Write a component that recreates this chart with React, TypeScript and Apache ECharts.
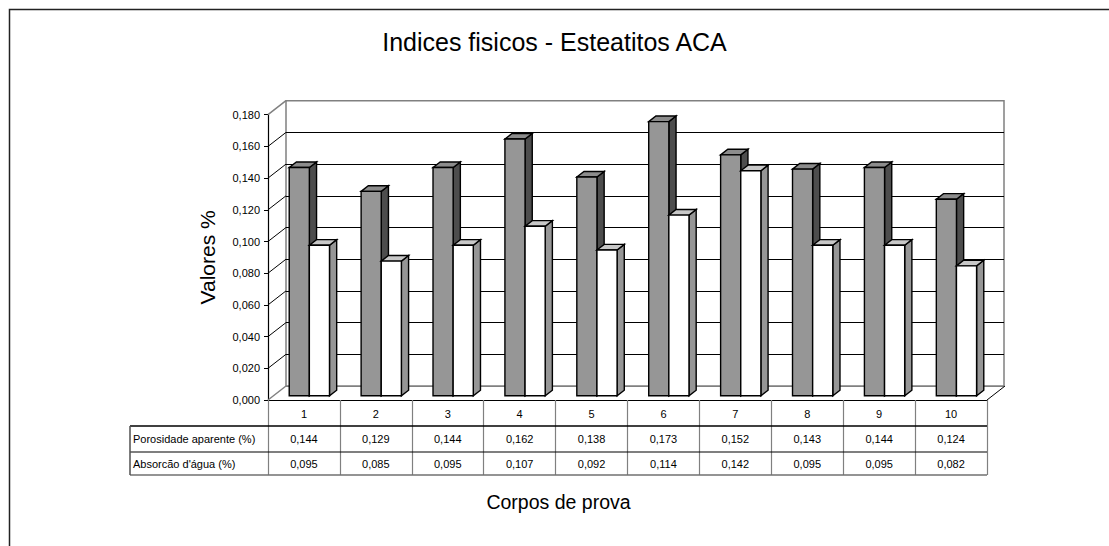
import React, { useEffect, useRef } from "react";
import * as echarts from "echarts";

const TITLE = "Indices fisicos - Esteatitos ACA";
const Y_NAME = "Valores %";
const X_NAME = "Corpos de prova";
const CATEGORIES = ["1", "2", "3", "4", "5", "6", "7", "8", "9", "10"];
const SERIES_NAMES = ["Porosidade aparente (%)", "Absorcão d'água (%)"];
const POROSIDADE = [0.144, 0.129, 0.144, 0.162, 0.138, 0.173, 0.152, 0.143, 0.144, 0.124];
const ABSORCAO = [0.095, 0.085, 0.095, 0.107, 0.092, 0.114, 0.142, 0.095, 0.095, 0.082];
const Y_TICKS = [0, 0.02, 0.04, 0.06, 0.08, 0.1, 0.12, 0.14, 0.16, 0.18];

// styling / layout constants
const DX = 18; // 3D depth offset (x)
const DY = 14; // 3D depth offset (y)
const BAR_T0 = 0.3;
const BAR_T1 = 0.7;
const BAR_W = 0.28; // fraction of band
const LABEL_COL_W = 138;
const ROW_Y = [26, 52, 75];
const SMALL_FONT = "Liberation Sans, Arial, sans-serif";
const BIG_FONT = "Liberation Sans, Arial, sans-serif";

const fmt = (v: number) => v.toFixed(3).replace(".", ",");

const BAR_STYLES = [
  { front: "#969696", side: "#4d4d4d", top: "#8c8c8c" },
  { front: "#ffffff", side: "#969696", top: "#c8c8c8" },
];

function makeBarRender(si: number) {
  return (params: any, api: any) => {
    const cat = api.value(0);
    const v = api.value(1);
    const base = api.coord([cat, 0]);
    const topP = api.coord([cat, v]);
    const band = api.size([1, 0])[0];
    const w = band * BAR_W;
    const ox = DX * BAR_T0;
    const oy = DY * BAR_T0;
    const ddx = DX * (BAR_T1 - BAR_T0);
    const ddy = DY * (BAR_T1 - BAR_T0);
    const x0 = base[0] + (si === 0 ? -w : 0) + ox;
    const yb = base[1] - oy;
    const yt = topP[1] - oy;
    const st = BAR_STYLES[si];
    const stroke = { stroke: "#000", lineWidth: 1.4, lineJoin: "miter" };
    return {
      type: "group",
      children: [
        {
          type: "polygon",
          shape: { points: [[x0 + w, yt], [x0 + w + ddx, yt - ddy], [x0 + w + ddx, yb - ddy], [x0 + w, yb]] },
          style: { fill: st.side, ...stroke },
        },
        {
          type: "polygon",
          shape: { points: [[x0, yt], [x0 + ddx, yt - ddy], [x0 + w + ddx, yt - ddy], [x0 + w, yt]] },
          style: { fill: st.top, ...stroke },
        },
        {
          type: "rect",
          shape: { x: x0, y: yt, width: w, height: yb - yt },
          style: { fill: st.front, ...stroke },
        },
        {
          type: "text",
          style: {
            text: fmt(v),
            x: base[0],
            y: base[1] + (si === 0 ? 39 : 64),
            align: "center",
            verticalAlign: "middle",
            textAlign: "center",
            textVerticalAlign: "middle",
            fontSize: 11,
            fontFamily: SMALL_FONT,
            fill: "#000",
          },
        },
      ],
    };
  };
}

function frameRender(params: any, api: any) {
  const v = api.value(1);
  const p = api.coord([0, v]);
  const band = api.size([1, 0])[0];
  const xl = p[0] - band / 2;
  const last = Y_TICKS.length - 1;
  const isEdge = params.dataIndex === 0 || params.dataIndex === last;
  const children: any[] = [
    {
      type: "line",
      shape: { x1: xl, y1: p[1], x2: xl + DX, y2: p[1] - DY },
      style: { stroke: isEdge ? "#808080" : "#000", lineWidth: isEdge ? 1.5 : 1 },
    },
  ];
  if (params.dataIndex === 0) {
    const xr = api.coord([CATEGORIES.length - 1, 0])[0] + band / 2;
    const y0 = p[1];
    const xt = xl - LABEL_COL_W;
    children.push({
      type: "line",
      shape: { x1: xr, y1: y0, x2: xr + DX, y2: y0 - DY },
      style: { stroke: "#000", lineWidth: 1 },
    });
    children.push({
      type: "line",
      shape: { x1: xt, y1: y0 + ROW_Y[0], x2: xr, y2: y0 + ROW_Y[0] },
      style: { stroke: "#000", lineWidth: 1.5 },
    });
    children.push({
      type: "line",
      shape: { x1: xt, y1: y0 + ROW_Y[1], x2: xr, y2: y0 + ROW_Y[1] },
      style: { stroke: "#000", lineWidth: 1.2 },
    });
    children.push({
      type: "line",
      shape: { x1: xt, y1: y0 + ROW_Y[2], x2: xr, y2: y0 + ROW_Y[2] },
      style: { stroke: "#707070", lineWidth: 1.5 },
    });
    children.push({
      type: "line",
      shape: { x1: xt, y1: y0 + ROW_Y[0], x2: xt, y2: y0 + ROW_Y[2] },
      style: { stroke: "#505050", lineWidth: 1.5 },
    });
    SERIES_NAMES.forEach((name, i) => {
      children.push({
        type: "text",
        style: {
          text: name,
          x: xt + 3,
          y: y0 + (i === 0 ? 39 : 64),
          align: "left",
          verticalAlign: "middle",
          textAlign: "left",
          textVerticalAlign: "middle",
          fontSize: 11,
          fontFamily: SMALL_FONT,
          fill: "#000",
        },
      });
    });
    // x axis title, centred under the whole table
    children.push({
      type: "text",
      style: {
        text: X_NAME,
        x: (xt + xr) / 2,
        y: y0 + 102,
        align: "center",
        verticalAlign: "middle",
        textAlign: "center",
        textVerticalAlign: "middle",
        fontSize: 19.5,
        fontFamily: BIG_FONT,
        fill: "#000",
      },
    });
  }
  return { type: "group", children };
}

export default function App() {
  const ref = useRef<HTMLDivElement>(null);
  useEffect(() => {
    if (!ref.current) return;
    const chart = echarts.init(ref.current, undefined, { renderer: "svg" });
    const splitColors = Y_TICKS.map((_, i) => (i === 0 || i === Y_TICKS.length - 1 ? "#808080" : "#000"));
    chart.setOption({
      animation: false,
      backgroundColor: "#fff",
      title: {
        text: TITLE,
        left: "center",
        top: 29,
        padding: 0,
        textStyle: { fontFamily: BIG_FONT, fontSize: 25, fontWeight: "normal", color: "#000" },
      },
      graphic: [
        {
          type: "rect",
          shape: { x: 9.5, y: 9.5, width: 1300, height: 700 },
          style: { fill: "none", stroke: "#222", lineWidth: 1.5 },
          silent: true,
        },
      ],
      grid: [
        { left: 268, right: 122, top: 114.7, bottom: 146, containLabel: false },
        {
          left: 286,
          right: 105,
          top: 100.7,
          bottom: 160,
          containLabel: false,
          show: true,
          borderColor: "#808080",
          borderWidth: 1.5,
          backgroundColor: "transparent",
        },
      ],
      xAxis: [
        {
          gridIndex: 0,
          type: "category",
          data: CATEGORIES,
          boundaryGap: true,
          axisLine: { show: true, lineStyle: { color: "#000", width: 1.2 } },
          axisTick: { show: true, interval: 0, length: 75, lineStyle: { color: "#808080", width: 1.2 } },
          axisLabel: {
            interval: 0,
            margin: 8,
            fontSize: 11,
            fontFamily: SMALL_FONT,
            color: "#000",
          },
          splitLine: { show: false },
        },
        {
          gridIndex: 1,
          type: "category",
          data: CATEGORIES,
          axisLine: { show: false },
          axisTick: { show: false },
          axisLabel: { show: false },
          splitLine: { show: false },
        },
      ],
      yAxis: [
        {
          gridIndex: 0,
          type: "value",
          min: 0,
          max: 0.18,
          interval: 0.02,
          axisLine: { show: true, lineStyle: { color: "#000", width: 1.2 } },
          axisTick: { show: true, length: 4, lineStyle: { color: "#000" } },
          axisLabel: {
            margin: 8,
            fontSize: 11,
            fontFamily: SMALL_FONT,
            color: "#000",
            formatter: (v: number) => fmt(v),
          },
          splitLine: { show: false },
          name: Y_NAME,
          nameLocation: "middle",
          nameRotate: 90,
          nameGap: 50,
          nameTextStyle: { fontFamily: BIG_FONT, fontSize: 21, color: "#000" },
        },
        {
          gridIndex: 1,
          type: "value",
          min: 0,
          max: 0.18,
          interval: 0.02,
          axisLine: { show: false },
          axisTick: { show: false },
          axisLabel: { show: false },
          splitLine: { show: true, lineStyle: { color: splitColors, width: 1 } },
        },
      ],
      series: [
        {
          name: "frame",
          type: "custom",
          xAxisIndex: 0,
          yAxisIndex: 0,
          clip: false,
          silent: true,
          data: Y_TICKS.map((t) => [0, t]),
          renderItem: frameRender,
          z: 3,
        },
        {
          name: SERIES_NAMES[0],
          type: "custom",
          xAxisIndex: 0,
          yAxisIndex: 0,
          clip: false,
          data: POROSIDADE.map((v, i) => [i, v]),
          renderItem: makeBarRender(0),
          z: 4,
        },
        {
          name: SERIES_NAMES[1],
          type: "custom",
          xAxisIndex: 0,
          yAxisIndex: 0,
          clip: false,
          data: ABSORCAO.map((v, i) => [i, v]),
          renderItem: makeBarRender(1),
          z: 5,
        },
      ],
    });
    return () => chart.dispose();
  }, []);
  return (
    <div
      ref={ref}
      style={{ position: "fixed", left: 0, top: 0, width: 1109, height: 546, background: "#fff" }}
    />
  );
}
